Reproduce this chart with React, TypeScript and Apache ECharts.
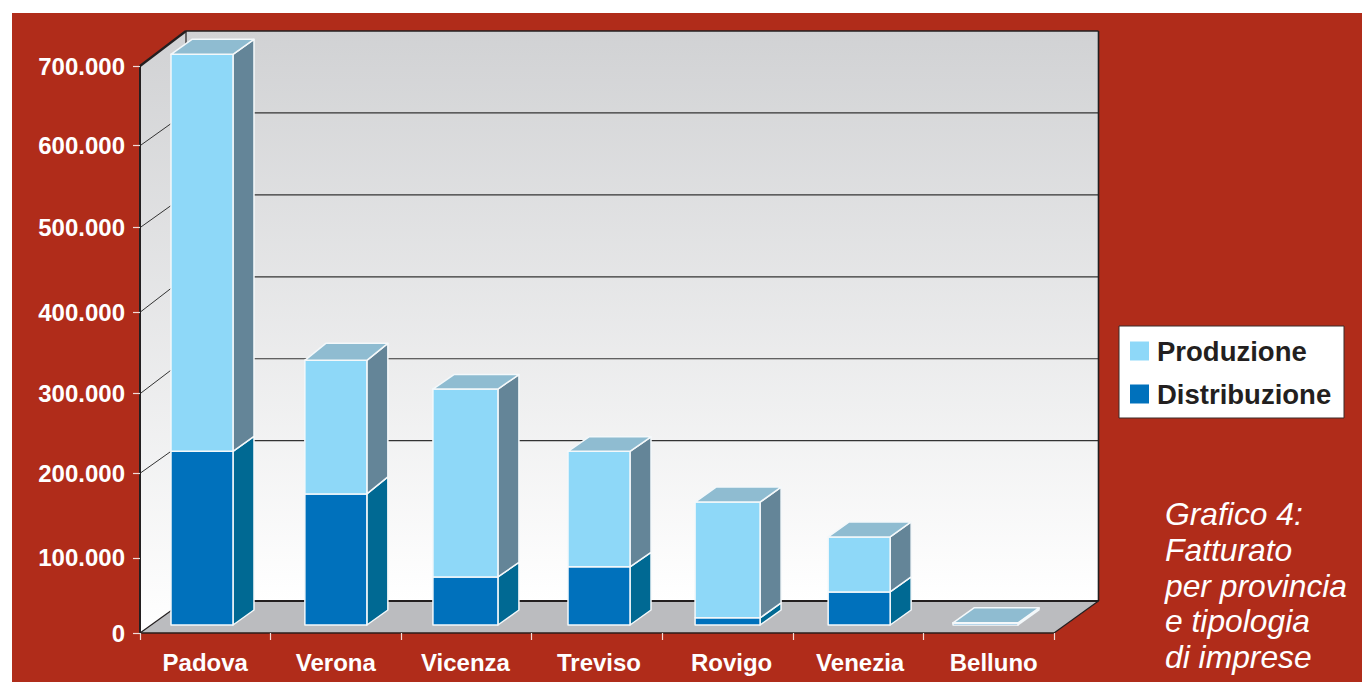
import React, { useEffect, useRef } from "react";
import * as echarts from "echarts";

const categories = ["Padova", "Verona", "Vicenza", "Treviso", "Rovigo", "Venezia", "Belluno"];
const distribuzione = [220000, 168000, 66700, 79000, 16700, 48400, 10000];
const produzione = [484500, 163000, 229300, 141000, 141300, 67100, 600];
// where the reference's hand-placed ticks actually sit on the value scale, and what they say
const yTickValues = [8000, 99600, 202900, 300000, 399400, 502700, 602700, 700000];
const yTickLabels = ["0", "100.000", "200.000", "300.000", "400.000", "500.000", "600.000", "700.000"];
const wallLines = [200000, 300000, 400000, 500000, 600000];
const wallLineStarts = [202900, 300000, 399400, 502700, 602700];
const captionLines = ["Grafico 4:", "Fatturato", "per provincia", "e tipologia", "di imprese"];

// layout of the pseudo-3D drawing (pixels)
const FONT = "'Liberation Sans', Arial, sans-serif";
const barNudge = [-3.3, 0, -1, 2, 0, 1, -3.2];
const barWidth = [62, 62, 65, 62, 65, 62, 65];
const barDepthY = [-15, -17, -14.5, -14.5, -15, -15, -15];
const labelNudge = [0, 0, -1, 2, 4, 2, 5];
const BAR_PLANE_Y = -8;
const DEPTH_X = 21;
const DEPTH_Y = -15;
const WALL_DX = 46;
const WALL_TOP_DY = -35;
const WALL_BOTTOM_DY = -32;

const renderWalls = (params: any, api: any) => {
  const cs = params.coordSys;
  const left = cs.x;
  const right = cs.x + cs.width;
  const top = cs.y;
  const bottom = cs.y + cs.height;
  const backL = left + WALL_DX;
  const backR = right + 44.5;
  const backT = top + WALL_TOP_DY;
  const backB = bottom + WALL_BOTTOM_DY;
  const wallFill = new echarts.graphic.LinearGradient(0, 0, 0, 1, [
    { offset: 0, color: "#d1d2d4" },
    { offset: 1, color: "#ffffff" },
  ]);
  const dark = "#231f20";
  const children: any[] = [
    {
      type: "rect",
      shape: { x: backL, y: backT, width: backR - backL, height: backB - backT },
      style: { fill: wallFill },
    },
    {
      type: "polygon",
      shape: { points: [[left, top], [backL, backT], [backL, backB], [left, bottom]] },
      style: { fill: wallFill },
    },
    {
      type: "polygon",
      shape: { points: [[left, bottom], [backL - 1.5, backB], [backR, backB], [right, bottom]] },
      style: { fill: "#bbbcbf" },
    },
  ];
  wallLines.forEach((v, i) => {
    const y = api.coord([0, v])[1];
    const yStart = api.coord([0, wallLineStarts[i]])[1];
    children.push({
      type: "line",
      shape: { x1: backL, y1: y + WALL_TOP_DY, x2: backR, y2: y + WALL_TOP_DY },
      style: { stroke: "#333333", lineWidth: 1.2 },
    });
    children.push({
      type: "line",
      shape: { x1: left, y1: yStart, x2: backL, y2: y + WALL_TOP_DY },
      style: { stroke: "#333333", lineWidth: 1 },
    });
  });
  const seg = (x1: number, y1: number, x2: number, y2: number, w: number) => ({
    type: "line",
    shape: { x1, y1, x2, y2 },
    style: { stroke: dark, lineWidth: w },
  });
  children.push(seg(backL, backT, backR, backT, 1.6));
  children.push(seg(backL, backT, backL, backB, 1.2));
  children.push(seg(backR, backT, backR, backB, 1.6));
  children.push(seg(backL, backB, backR, backB, 2));
  children.push(seg(left, top, backL, backT, 2.2));
  children.push(seg(left, bottom, backL - 1.5, backB, 1.2));
  children.push(seg(right, bottom, backR, backB, 1.2));
  return { type: "group", children };
};

const AXIS_FLOOR = yTickValues[0];

const makeSegment = (front: string, side: string, withTop: boolean) => (params: any, api: any) => {
  const i = api.value(0);
  const base = api.value(2);
  const [cx, yLow] = api.coord([i, base]);
  const yHigh = api.coord([i, api.value(1)])[1];
  const x0 = cx + barNudge[i] - barWidth[i] / 2;
  const x1 = x0 + barWidth[i];
  const y0 = yHigh + BAR_PLANE_Y;
  const y1 = yLow + BAR_PLANE_Y;
  const dyHigh = barDepthY[i];
  const dyLow = base === AXIS_FLOOR ? DEPTH_Y : barDepthY[i];
  const edge = { stroke: "#f4f8fa", lineWidth: 1.5, lineJoin: "round" };
  const children: any[] = [
    {
      type: "polygon",
      shape: { points: [[x1, y0], [x1 + DEPTH_X, y0 + dyHigh], [x1 + DEPTH_X, y1 + dyLow], [x1, y1]] },
      style: { fill: side, ...edge },
    },
    {
      type: "rect",
      shape: { x: x0, y: y0, width: x1 - x0, height: y1 - y0 },
      style: { fill: front, ...edge },
    },
  ];
  if (withTop) {
    children.push({
      type: "polygon",
      shape: { points: [[x0, y0], [x0 + DEPTH_X, y0 + dyHigh], [x1 + DEPTH_X, y0 + dyHigh], [x1, y0]] },
      style: { fill: "#8fbcd1", ...edge },
    });
  }
  return { type: "group", children };
};

export default function App() {
  const ref = useRef<HTMLDivElement>(null);
  useEffect(() => {
    const chart = echarts.init(ref.current!, undefined, { renderer: "svg" });
    chart.setOption({
      animation: false,
      backgroundColor: "#ffffff",
      textStyle: { fontFamily: FONT },
      grid: { left: 140, right: 308, top: 66, bottom: 49, containLabel: false },
      xAxis: {
        type: "category",
        data: categories.map((name, i) => ({
          value: name,
          textStyle: {
            padding: labelNudge[i] >= 0 ? [0, 0, 0, labelNudge[i] * 2] : [0, -labelNudge[i] * 2, 0, 0],
          },
        })),
        z: 5,
        axisLine: { show: true, lineStyle: { color: "#2a1c1a", width: 1.5 } },
        axisTick: { show: true, alignWithLabel: false, length: 7, lineStyle: { color: "#f3dcd8", width: 1.2 } },
        axisLabel: { color: "#ffffff", fontSize: 24, fontWeight: "bold", fontFamily: FONT, margin: 17, interval: 0 },
        splitLine: { show: false },
      },
      yAxis: {
        type: "value",
        min: AXIS_FLOOR,
        max: 700000,
        z: 5,
        axisLine: { show: true, lineStyle: { color: "#231f20", width: 2 } },
        axisTick: { show: true, length: 7, customValues: yTickValues, lineStyle: { color: "#f3dcd8", width: 1.2 } },
        axisLabel: {
          color: "#ffffff",
          fontSize: 24,
          fontWeight: "bold",
          fontFamily: FONT,
          margin: 15,
          customValues: yTickValues,
          formatter: (v: number) => yTickLabels[yTickValues.indexOf(v)],
        },
        splitLine: { show: false },
      },
      legend: {
        orient: "vertical",
        left: 1130,
        top: 337,
        padding: 0,
        itemWidth: 19,
        itemHeight: 19,
        itemGap: 15,
        icon: "rect",
        selectedMode: false,
        data: ["Produzione", "Distribuzione"],
        textStyle: { color: "#231f20", fontSize: 27.5, fontWeight: "bold", fontFamily: FONT, padding: [0, 0, 0, 3] },
      },
      graphic: [
        { type: "rect", z: -10, shape: { x: 12, y: 13, width: 1350, height: 669 }, style: { fill: "#b02c1a" } },
        {
          type: "rect",
          z: 1,
          shape: { x: 1119, y: 326, width: 225, height: 92 },
          style: { fill: "#ffffff", stroke: "#3a2a28", lineWidth: 1 },
        },
        ...captionLines.map((line, i) => ({
          type: "text",
          z: 1,
          x: 1165,
          y: 514 + i * 35.75,
          style: {
            text: line,
            fill: "#ffffff",
            font: `italic 31.8px ${FONT}`,
            verticalAlign: "middle",
          },
        })),
      ],
      series: [
        {
          type: "custom",
          name: "pareti",
          coordinateSystem: "cartesian2d",
          z: 1,
          silent: true,
          renderItem: renderWalls,
          data: [[0, AXIS_FLOOR]],
        },
        {
          type: "custom",
          name: "Distribuzione",
          coordinateSystem: "cartesian2d",
          z: 2,
          itemStyle: { color: "#0071bc" },
          renderItem: makeSegment("#0071bc", "#006993", false),
          encode: { x: 0, y: 1 },
          data: distribuzione.map((v, i) => [i, v, AXIS_FLOOR]),
        },
        {
          type: "custom",
          name: "Produzione",
          coordinateSystem: "cartesian2d",
          z: 2,
          itemStyle: { color: "#8ed8f8" },
          renderItem: makeSegment("#8ed8f8", "#648598", true),
          encode: { x: 0, y: 1 },
          data: produzione.map((v, i) => [i, distribuzione[i] + v, distribuzione[i]]),
        },
      ],
    });
    return () => chart.dispose();
  }, []);
  return <div ref={ref} style={{ position: "fixed", left: 0, top: 0, width: 1362, height: 682 }} />;
}
